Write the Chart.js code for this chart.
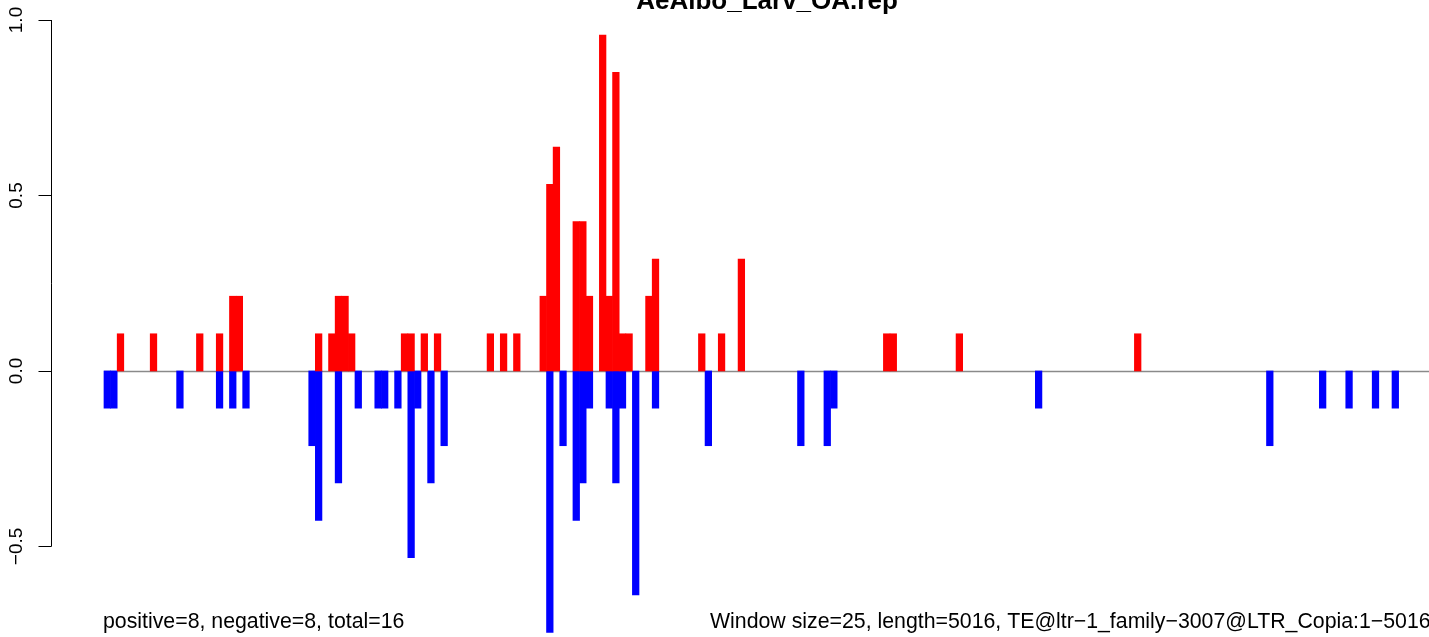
<!DOCTYPE html>
<html>
<head>
<meta charset="utf-8">
<script src="https://cdn.jsdelivr.net/npm/chart.js@4.4.1/dist/chart.umd.min.js"></script>
<style>
  html, body { margin: 0; padding: 0; background: #fff; }
  #wrap { width: 1429px; height: 637px; }
</style>
</head>
<body>
<div id="wrap"><canvas id="chart"></canvas></div>
<script>
// window index (25 bp windows) and normalised signal per window
var redBins = [2, 7, 14, 17, 19, 20, 32, 34, 35, 36, 37, 45, 46, 48, 50, 58, 60, 62,
  66, 67, 68, 71, 72, 73, 75, 76, 77, 78, 79, 82, 83, 90, 93, 96, 118, 119, 129, 156];
var redValues = [0.106, 0.106, 0.106, 0.106, 0.213, 0.213, 0.106, 0.106, 0.213, 0.213, 0.106,
  0.106, 0.106, 0.106, 0.106, 0.106, 0.106, 0.106,
  0.213, 0.532, 0.638, 0.426, 0.426, 0.213, 0.957, 0.213, 0.851, 0.106, 0.106, 0.213, 0.319,
  0.106, 0.106, 0.319, 0.106, 0.106, 0.106, 0.106];

var blueBins = [0, 1, 11, 17, 19, 21, 31, 32, 35, 38, 41, 42, 44, 46, 47, 49, 51,
  67, 69, 71, 72, 73, 76, 77, 78, 80, 83, 91, 105, 109, 110, 141, 176, 184, 188, 192, 195];
var blueValues = [-0.106, -0.106, -0.106, -0.106, -0.106, -0.106, -0.213, -0.426, -0.319,
  -0.106, -0.106, -0.106, -0.106, -0.532, -0.106, -0.319, -0.213,
  -0.745, -0.213, -0.426, -0.319, -0.106, -0.106, -0.319, -0.106, -0.638, -0.106, -0.213,
  -0.213, -0.213, -0.106, -0.106, -0.213, -0.106, -0.106, -0.106, -0.106];

var yTickValues = [-0.5, 0, 0.5, 1.0];
var yTickLabels = ['\u22120.5', '0.0', '0.5', '1.0'];

var titleText = 'AeAlbo_Larv_OA.rep';
var leftNote = 'positive=8, negative=8, total=16';
var rightNote = 'Window size=25, length=5016, TE@ltr\u22121_family\u22123007@LTR_Copia:1\u22125016';

var FONT = '"Liberation Sans", Arial, Helvetica, sans-serif';

function toPoints(bins, values) {
  return bins.map(function (b, i) { return { x: b + 0.5, y: values[i] }; });
}

var zeroLine = {
  id: 'zeroLine',
  beforeDatasetsDraw: function (chart) {
    var c = chart.ctx, x = chart.scales.x, y = chart.scales.y;
    var py = Math.round(y.getPixelForValue(0)) + 0.5;
    c.save();
    c.strokeStyle = '#8a8a8a';
    c.lineWidth = 1.6;
    c.beginPath();
    c.moveTo(x.getPixelForValue(0), py);
    c.lineTo(chart.chartArea.right, py);
    c.stroke();
    c.restore();
  }
};

var rAxis = {
  id: 'rAxis',
  afterDraw: function (chart) {
    var c = chart.ctx, y = chart.scales.y;
    var ax = chart.chartArea.left + 0.5;
    c.save();
    c.strokeStyle = '#000';
    c.lineWidth = 1;
    c.beginPath();
    c.moveTo(ax, y.getPixelForValue(yTickValues[0]));
    c.lineTo(ax, y.getPixelForValue(yTickValues[yTickValues.length - 1]));
    yTickValues.forEach(function (v) {
      var py = Math.round(y.getPixelForValue(v)) + 0.5;
      c.moveTo(ax - 13, py);
      c.lineTo(ax, py);
    });
    c.stroke();

    c.fillStyle = '#000';
    c.font = '19px ' + FONT;
    c.textAlign = 'center';
    c.textBaseline = 'alphabetic';
    yTickValues.forEach(function (v, i) {
      c.save();
      c.translate(22, y.getPixelForValue(v));
      c.rotate(-Math.PI / 2);
      c.fillText(yTickLabels[i], 0, 0);
      c.restore();
    });

    c.font = 'bold 26px ' + FONT;
    c.fillText(titleText, 767, 9);

    c.font = '21.3px ' + FONT;
    c.textAlign = 'left';
    c.fillText(leftNote, 103, 628);
    c.fillText(rightNote, 710, 628);
    c.restore();
  }
};

var ctx = document.getElementById('chart').getContext('2d');
var myChart = new Chart(ctx, {
  type: 'bar',
  data: {
    datasets: [{
        label: 'positive',
        data: toPoints(redBins, redValues),
        backgroundColor: '#ff0000',
        borderWidth: 0
      },
      {
        label: 'negative',
        data: toPoints(blueBins, blueValues),
        backgroundColor: '#0000ff',
        borderWidth: 0
      }
    ]
  },
  options: {
    responsive: true,
    maintainAspectRatio: false,
    animation: false,
    categoryPercentage: 1,
    barPercentage: 1,
    layout: { padding: { left: 51, right: 0, top: 0, bottom: 0 } },
    plugins: {
      legend: { display: false },
      tooltip: { enabled: false },
      title: { display: false }
    },
    scales: {
      x: {
        type: 'linear',
        display: false,
        offset: false,
        stacked: true,
        min: -8.02,
        max: 200.6,
        afterBuildTicks: function (scale) {
          scale.ticks = [{ value: 0 }, { value: 200 }];
        }
      },
      y: {
        display: false,
        stacked: true,
        min: -0.758,
        max: 1.057
      }
    }
  },
  plugins: [zeroLine, rAxis]
});
</script>
</body>
</html>
